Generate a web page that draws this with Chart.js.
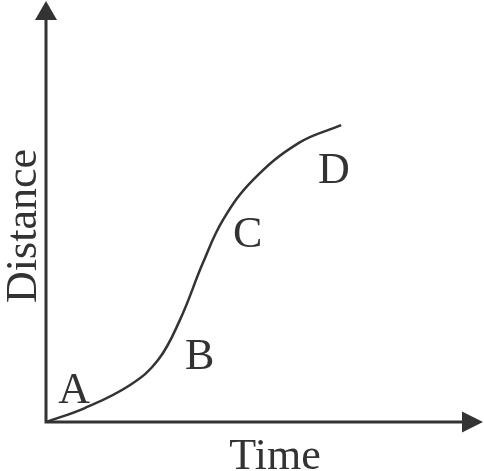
<!DOCTYPE html>
<html>
<head>
<meta charset="utf-8">
<script src="https://cdn.jsdelivr.net/npm/chart.js@4/dist/chart.umd.min.js"></script>
<style>
  html, body { margin: 0; padding: 0; background: #fff; }
  #wrap { width: 484px; height: 471px; }
</style>
</head>
<body>
<div id="wrap"><canvas id="chCurve"></canvas></div>
<script>
/* distance - time sketch */

// curve (arbitrary units)
var timeVals = [0, 0.89, 1.93, 2.57, 3.07, 3.60, 4.06, 4.75, 5.80, 6.77];
var distVals = [0, 0.33, 0.88, 1.47, 2.42, 3.78, 4.80, 5.75, 6.63, 7.05];

// letters along the curve
var pointLabels = ['A', 'B', 'C', 'D'];
var labelTime = [0.28, 3.19, 4.29, 6.24];
var labelDist = [0.45, 1.26, 4.16, 5.68];

var axisTitles = {x: 'Time', y: 'Distance'};

var ink = '#333333';
var font = '44px "Liberation Serif", "Times New Roman", serif';

var curveData = timeVals.map(function (t, i) { return {x: t, y: distVals[i]}; });

// axes with arrow heads, letters and titles
var sketchPlugin = {
  id: 'sketch',
  afterDatasetsDraw: function (chart) {
    var ctx = chart.ctx, a = chart.chartArea;
    var sx = chart.scales.x, sy = chart.scales.y;
    ctx.save();
    ctx.strokeStyle = ink;
    ctx.fillStyle = ink;
    ctx.lineWidth = 3;
    ctx.beginPath();
    ctx.moveTo(a.left, 19);
    ctx.lineTo(a.left, a.bottom);
    ctx.lineTo(a.right - 20, a.bottom);
    ctx.stroke();
    // arrow heads
    ctx.beginPath();
    ctx.moveTo(a.left, a.top);
    ctx.lineTo(a.left - 11, a.top + 19);
    ctx.lineTo(a.left + 11, a.top + 19);
    ctx.closePath();
    ctx.fill();
    ctx.beginPath();
    ctx.moveTo(a.right + 1, a.bottom);
    ctx.lineTo(a.right - 20, a.bottom - 10.5);
    ctx.lineTo(a.right - 20, a.bottom + 10.5);
    ctx.closePath();
    ctx.fill();

    ctx.font = font;
    ctx.textAlign = 'left';
    ctx.textBaseline = 'alphabetic';
    pointLabels.forEach(function (lab, i) {
      ctx.fillText(lab, sx.getPixelForValue(labelTime[i]), sy.getPixelForValue(labelDist[i]));
    });

    ctx.textAlign = 'center';
    ctx.fillText(axisTitles.x, 275, 469);
    ctx.translate(36, 226);
    ctx.rotate(-Math.PI / 2);
    ctx.fillText(axisTitles.y, 0, 0);
    ctx.restore();
  }
};

new Chart(document.getElementById('chCurve'), {
  type: 'scatter',
  data: {
    datasets: [{
      data: curveData,
      showLine: true,
      borderColor: ink,
      borderWidth: 2.5,
      pointRadius: 0,
      tension: 0.4
    }]
  },
  options: {
    responsive: true,
    maintainAspectRatio: false,
    animation: false,
    layout: {padding: {left: 46, right: 2, top: 1, bottom: 49}},
    plugins: {legend: {display: false}, tooltip: {enabled: false}},
    scales: {
      x: {type: 'linear', display: false, min: 0, max: 10},
      y: {type: 'linear', display: false, min: 0, max: 10}
    }
  },
  plugins: [sketchPlugin]
});
</script>
</body>
</html>
